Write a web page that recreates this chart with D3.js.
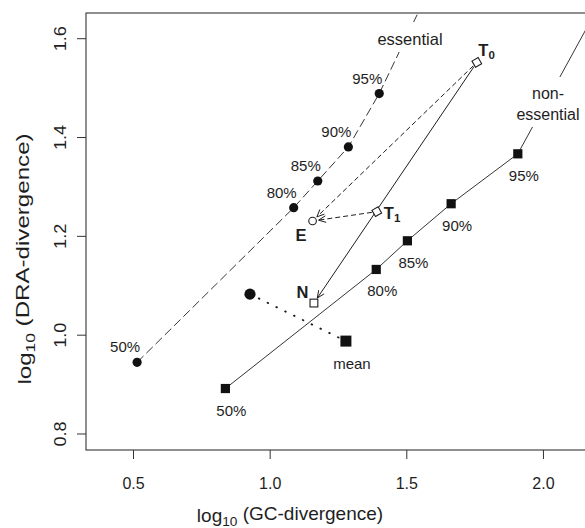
<!DOCTYPE html>
<html>
<head>
<meta charset="utf-8">
<script src="https://cdn.jsdelivr.net/npm/d3@7"></script>
<style>
  html, body { margin: 0; padding: 0; background: #fff; }
  svg { display: block; font-family: "Liberation Sans", Arial, Helvetica, sans-serif; }
</style>
</head>
<body>
<svg id="chart" width="585" height="528"></svg>
<script>
// ---------- data ----------
const pctLabels = ["50%", "80%", "85%", "90%", "95%"];
const essentialX = [0.515, 1.088, 1.176, 1.288, 1.401];
const essentialY = [0.944, 1.257, 1.311, 1.380, 1.488];
const essentialExt = [1.56, 1.671];          // extrapolated continuation (leaves the plot)
const nonEssentialX = [0.838, 1.390, 1.504, 1.664, 1.908];
const nonEssentialY = [0.891, 1.132, 1.190, 1.265, 1.366];
const nonEssentialExt = [2.20, 1.661];       // extrapolated continuation (leaves the plot)
const meanX = [0.928, 1.279];                // essential, non-essential
const meanY = [1.082, 0.987];
const stateNames = ["T0", "T1", "E", "N"];
const stateX = [1.758, 1.392, 1.157, 1.162];
const stateY = [1.551, 1.249, 1.230, 1.064];
const arrowsFrom = ["T0", "T0", "T1"];
const arrowsTo = ["N", "E", "E"];
const arrowsDashed = [false, true, true];
const xTicks = [0.5, 1.0, 1.5, 2.0];
const yTicks = [0.8, 1.0, 1.2, 1.4, 1.6];

// ---------- layout ----------
const svg = d3.select("#chart");
const L = 86, T = 13, B = 450;
const x = d3.scaleLinear().domain([0.328, 2.16]).range([L, L + (2.16 - 0.328) * 273.3]);
const y = d3.scaleLinear().domain([0.7666, 1.651]).range([B, T]);
const R = x.range()[1];
const ink = "#1e1e1e";

svg.append("defs").append("clipPath").attr("id", "clip")
  .append("rect").attr("x", L).attr("y", T).attr("width", R - L).attr("height", B - T);

const plot = svg.append("g").attr("clip-path", "url(#clip)");

// curves
const essPts = essentialX.map((v, i) => [v, essentialY[i]]).concat([essentialExt]);
const nonPts = nonEssentialX.map((v, i) => [v, nonEssentialY[i]]).concat([nonEssentialExt]);
const line = d3.line().x(d => x(d[0])).y(d => y(d[1]));

plot.append("path").attr("d", line(essPts)).attr("fill", "none")
  .attr("stroke", ink).attr("stroke-width", 0.9).attr("stroke-dasharray", "9,4");
plot.append("path").attr("d", line(nonPts)).attr("fill", "none")
  .attr("stroke", ink).attr("stroke-width", 0.9);

// dotted line between means
plot.append("line")
  .attr("x1", x(meanX[0])).attr("y1", y(meanY[0]))
  .attr("x2", x(meanX[1])).attr("y2", y(meanY[1]))
  .attr("stroke", ink).attr("stroke-width", 1.9)
  .attr("stroke-linecap", "round").attr("stroke-dasharray", "0.6,9.2");

// curve labels with white backgrounds (interrupting the lines)
function bgLabel(lines, cx, baselines, size) {
  const g = plot.append("g");
  const rect = g.append("rect").attr("fill", "#fff");
  const t = g.append("text").attr("text-anchor", "middle").attr("font-size", size).attr("fill", ink);
  lines.forEach((s, i) => t.append("tspan").attr("x", cx).attr("y", baselines[i]).text(s));
  const bb = t.node().getBBox();
  rect.attr("x", bb.x - 4).attr("y", bb.y - 8).attr("width", bb.width + 8).attr("height", bb.height + 12);
}
bgLabel(["essential"], 410, [45], 16.5);
bgLabel(["non-", "essential"], 548, [99, 120], 16);

// arrows between states
const sIdx = n => stateNames.indexOf(n);
const ah = 8, aAng = 24 * Math.PI / 180;
arrowsFrom.forEach((f, i) => {
  const a = sIdx(f), b = sIdx(arrowsTo[i]);
  let x1 = x(stateX[a]), y1 = y(stateY[a]), x2 = x(stateX[b]), y2 = y(stateY[b]);
  const dx = x2 - x1, dy = y2 - y1, len = Math.hypot(dx, dy);
  const ux = dx / len, uy = dy / len;
  const sx = x1 + ux * 5, sy = y1 + uy * 5;
  const ex = x2 - ux * 6, ey = y2 - uy * 6;
  const g = svg.append("g").attr("stroke", ink).attr("stroke-width", 1).attr("fill", "none");
  g.append("line").attr("x1", sx).attr("y1", sy).attr("x2", ex).attr("y2", ey)
    .attr("stroke-dasharray", arrowsDashed[i] ? "5,3" : null);
  const ang = Math.atan2(uy, ux);
  const p1 = [ex - ah * Math.cos(ang - aAng), ey - ah * Math.sin(ang - aAng)];
  const p2 = [ex - ah * Math.cos(ang + aAng), ey - ah * Math.sin(ang + aAng)];
  g.append("path").attr("d", `M${p1[0]},${p1[1]}L${ex},${ey}L${p2[0]},${p2[1]}`);
});

// markers
essentialX.forEach((v, i) => {
  svg.append("circle").attr("cx", x(v)).attr("cy", y(essentialY[i])).attr("r", 4.6).attr("fill", "#111");
});
nonEssentialX.forEach((v, i) => {
  svg.append("rect").attr("x", x(v) - 4.6).attr("y", y(nonEssentialY[i]) - 4.6)
    .attr("width", 9.2).attr("height", 9.2).attr("fill", "#111");
});
svg.append("circle").attr("cx", x(meanX[0])).attr("cy", y(meanY[0])).attr("r", 5.6).attr("fill", "#111");
svg.append("rect").attr("x", x(meanX[1]) - 5.5).attr("y", y(meanY[1]) - 5.5)
  .attr("width", 11).attr("height", 11).attr("fill", "#111");

// state markers (open)
stateNames.forEach((n, i) => {
  const cx = x(stateX[i]), cy = y(stateY[i]);
  const st = { fill: "#fff", stroke: ink, "stroke-width": 1.1 };
  let el;
  if (n === "T0" || n === "T1") {
    el = svg.append("path").attr("d", `M${cx},${cy - 5}L${cx + 5},${cy}L${cx},${cy + 5}L${cx - 5},${cy}Z`)
      .attr("transform", `rotate(15,${cx},${cy})`);
  } else if (n === "E") {
    el = svg.append("circle").attr("cx", cx).attr("cy", cy).attr("r", 3.8);
  } else {
    el = svg.append("rect").attr("x", cx - 3.9).attr("y", cy - 3.9).attr("width", 7.8).attr("height", 7.8);
  }
  Object.entries(st).forEach(([k, v]) => el.attr(k, v));
});

// percentage labels
const lab = svg.append("g").attr("font-size", 15).attr("fill", ink).attr("text-anchor", "middle");
essentialX.forEach((v, i) => {
  lab.append("text").attr("x", x(v) - 12).attr("y", y(essentialY[i]) - 10).text(pctLabels[i]);
});
nonEssentialX.forEach((v, i) => {
  lab.append("text").attr("x", x(v) + 6).attr("y", y(nonEssentialY[i]) + 27).text(pctLabels[i]);
});
lab.append("text").attr("x", x(meanX[1]) + 6).attr("y", y(meanY[1]) + 28).text("mean");

// state labels
function stateLabel(n, dx, dy, anchor) {
  const i = sIdx(n);
  const t = svg.append("text").attr("x", x(stateX[i]) + dx).attr("y", y(stateY[i]) + dy)
    .attr("font-size", 16.5).attr("font-weight", "bold").attr("fill", ink).attr("text-anchor", anchor);
  if (n.length > 1) {
    t.append("tspan").text(n[0]);
    t.append("tspan").attr("font-size", 11.5).attr("dy", 3).text(n.slice(1));
  } else {
    t.text(n);
  }
}
stateLabel("T0", 1.5, -6, "start");
stateLabel("T1", 7, 7.5, "start");
stateLabel("E", -11.5, 20, "middle");
stateLabel("N", -11.5, -5, "middle");

// box
svg.append("rect").attr("x", L).attr("y", T).attr("width", R - L).attr("height", B - T)
  .attr("fill", "none").attr("stroke", "#333").attr("stroke-width", 1.1);

// axes
const xa = svg.append("g").attr("transform", `translate(0,${B})`)
  .call(d3.axisBottom(x).tickValues(xTicks).tickFormat(d3.format(".1f")).tickSize(9));
xa.select(".domain").remove();
xa.selectAll("line").attr("stroke", "#333");
xa.selectAll("text").attr("font-size", 16).attr("font-family", null).attr("fill", ink)
  .attr("y", 39).attr("dy", 0);

const ya = svg.append("g").attr("transform", `translate(${L},0)`)
  .call(d3.axisLeft(y).tickValues(yTicks).tickFormat(d3.format(".1f")).tickSize(9));
ya.select(".domain").remove();
ya.selectAll("line").attr("stroke", "#333");
ya.selectAll("text").attr("font-size", 16).attr("font-family", null).attr("fill", ink)
  .attr("x", 0).attr("y", 0).attr("dy", 0).attr("text-anchor", "middle")
  .attr("transform", "translate(-20,0) rotate(-90) scale(1.13,1)");

// axis titles
function title(t, base) {
  t.append("tspan").text("log");
  t.append("tspan").attr("font-size", "0.72em").attr("dy", "0.3em").text("10");
  t.append("tspan").attr("dy", "-0.3em").text(" " + base);
}
title(svg.append("text").attr("x", 290).attr("y", 521.5).attr("text-anchor", "middle")
  .attr("font-size", 19).attr("fill", ink), "(GC-divergence)");
title(svg.append("text").attr("text-anchor", "middle").attr("font-size", 19).attr("fill", ink)
  .attr("transform", "translate(31,259) rotate(-90) scale(1.27,1)"), "(DRA-divergence)");
</script>
</body>
</html>
